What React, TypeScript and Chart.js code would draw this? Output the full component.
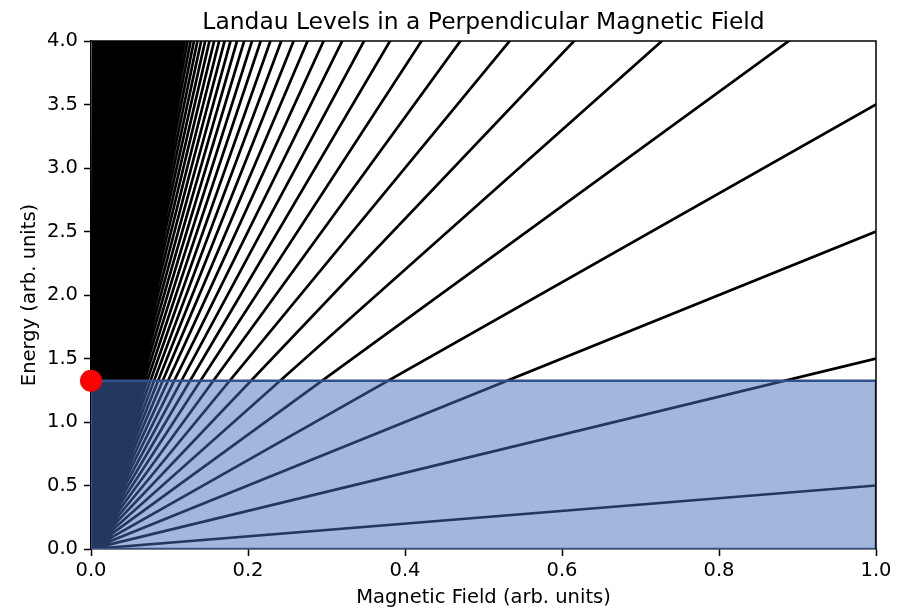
import React, { useEffect, useRef } from "react";
import { Chart, registerables } from "chart.js";

Chart.register(...registerables);

const chartTitle = "Landau Levels in a Perpendicular Magnetic Field";
const xAxisLabel = "Magnetic Field (arb. units)";
const yAxisLabel = "Energy (arb. units)";

// Magnetic field range (arb. units) over which each level is drawn
const fieldRange = [0, 1];
// Energy range of the plot
const energyRange = [0, 4];
// Landau level indices n; level energy E_n = (n + 1/2) * B
const landauIndices = Array.from({ length: 1500 }, (_, n) => n);
// Fermi energy (top of filled region / red marker)
const fermiEnergy = 1.325;

const xTicks = [0, 0.2, 0.4, 0.6, 0.8, 1.0];
const yTicks = [0, 0.5, 1.0, 1.5, 2.0, 2.5, 3.0, 3.5, 4.0];

const FONT = "'DejaVu Sans', sans-serif";

export default function App() {
  const ref = useRef<HTMLCanvasElement | null>(null);

  useEffect(() => {
    if (!ref.current) return;

    const [b0, b1] = fieldRange;
    const eTop = energyRange[1] * 1.05;

    // Each level is a straight line E = (n + 1/2) B; end it once it leaves the plot
    const levelPoints: { x: number; y: number | null }[] = [];
    for (const n of landauIndices) {
      const slope = n + 0.5;
      const bEnd = Math.min(b1, eTop / slope);
      levelPoints.push({ x: b0, y: slope * b0 });
      levelPoints.push({ x: bEnd, y: slope * bEnd });
      levelPoints.push({ x: bEnd, y: null });
    }

    const fermiTop = [
      { x: b0, y: fermiEnergy },
      { x: b1, y: fermiEnergy },
    ];
    const fermiOutline = [
      { x: b0, y: 0 },
      { x: b0, y: fermiEnergy },
      { x: b1, y: fermiEnergy },
      { x: b1, y: 0 },
      { x: b0, y: 0 },
    ];

    const framePlugin = {
      id: "frameAndTitle",
      afterDatasetsDraw(chart: any) {
        const { ctx, chartArea } = chart;
        const { left, right, top, bottom } = chartArea;
        ctx.save();
        ctx.strokeStyle = "#000";
        ctx.lineWidth = 1.5;
        ctx.beginPath();
        ctx.moveTo(left, top);
        ctx.lineTo(right, top);
        ctx.lineTo(right, bottom);
        ctx.stroke();
        ctx.restore();
      },
      afterDraw(chart: any) {
        const { ctx, chartArea } = chart;
        ctx.save();
        ctx.fillStyle = "#000";
        ctx.font = `23.4px ${FONT}`;
        ctx.textAlign = "center";
        ctx.textBaseline = "alphabetic";
        ctx.fillText(chartTitle, (chartArea.left + chartArea.right) / 2, 29);
        ctx.restore();
      },
    };

    const tickFont = { family: FONT, size: 19.5 };

    const chart = new Chart(ref.current, {
      type: "line",
      data: {
        datasets: [
          {
            label: "levels",
            data: levelPoints as any,
            borderColor: "#000",
            borderWidth: 2.7,
            pointRadius: 0,
            tension: 0,
            spanGaps: false,
            fill: false,
            order: 4,
          },
          {
            label: "fermi-fill",
            data: fermiTop as any,
            borderWidth: 0,
            borderColor: "rgba(0,0,0,0)",
            backgroundColor: "rgba(68,112,188,0.5)",
            pointRadius: 0,
            tension: 0,
            fill: "origin",
            order: 3,
          },
          {
            label: "fermi-edge",
            data: fermiOutline as any,
            borderColor: "#31518c",
            borderWidth: 2.4,
            pointRadius: 0,
            tension: 0,
            fill: false,
            order: 2,
          },
          {
            label: "marker",
            data: [{ x: 0, y: fermiEnergy }] as any,
            showLine: false,
            pointRadius: 11,
            pointBackgroundColor: "#ff0000",
            pointBorderWidth: 0,
            pointBorderColor: "rgba(0,0,0,0)",
            clip: false as any,
            order: 1,
          },
        ],
      },
      options: {
        animation: false,
        responsive: false,
        events: [],
        layout: { padding: { top: 41, right: 31, left: 0, bottom: 0 } },
        plugins: {
          legend: { display: false },
          tooltip: { enabled: false },
          title: { display: false },
        },
        scales: {
          x: {
            type: "linear",
            min: fieldRange[0],
            max: fieldRange[1],
            afterBuildTicks: (s: any) => {
              s.ticks = xTicks.map((v) => ({ value: v }));
            },
            afterFit: (s: any) => {
              s.height = 59;
            },
            ticks: {
              callback: (v: any) => Number(v).toFixed(1),
              font: tickFont,
              color: "#000",
              padding: 3,
              maxRotation: 0,
            },
            grid: {
              drawOnChartArea: false,
              drawTicks: true,
              tickLength: 7,
              tickWidth: 1.5,
              tickColor: "#000",
            },
            border: { display: true, color: "#000", width: 1.5 },
            title: {
              display: true,
              text: xAxisLabel,
              font: { family: FONT, size: 19.5, lineHeight: 1 },
              color: "#000",
              padding: { top: 1, bottom: 0 },
            },
          },
          y: {
            type: "linear",
            min: energyRange[0],
            max: energyRange[1],
            afterBuildTicks: (s: any) => {
              s.ticks = yTicks.map((v) => ({ value: v }));
            },
            afterFit: (s: any) => {
              s.width = 91;
            },
            ticks: {
              callback: (v: any) => Number(v).toFixed(1),
              font: tickFont,
              color: "#000",
              padding: 6,
            },
            grid: {
              drawOnChartArea: false,
              drawTicks: true,
              tickLength: 7,
              tickWidth: 1.5,
              tickColor: "#000",
            },
            border: { display: true, color: "#000", width: 1.5 },
            title: {
              display: true,
              text: yAxisLabel,
              font: { family: FONT, size: 19.5, lineHeight: 1 },
              color: "#000",
              padding: { top: 20, bottom: 0 },
            },
          },
        },
      },
      plugins: [framePlugin],
    } as any);

    return () => chart.destroy();
  }, []);

  return (
    <div style={{ position: "absolute", left: 0, top: 0, width: 907, height: 608, background: "#fff" }}>
      <canvas ref={ref} width={907} height={608} style={{ width: 907, height: 608 }} />
    </div>
  );
}
